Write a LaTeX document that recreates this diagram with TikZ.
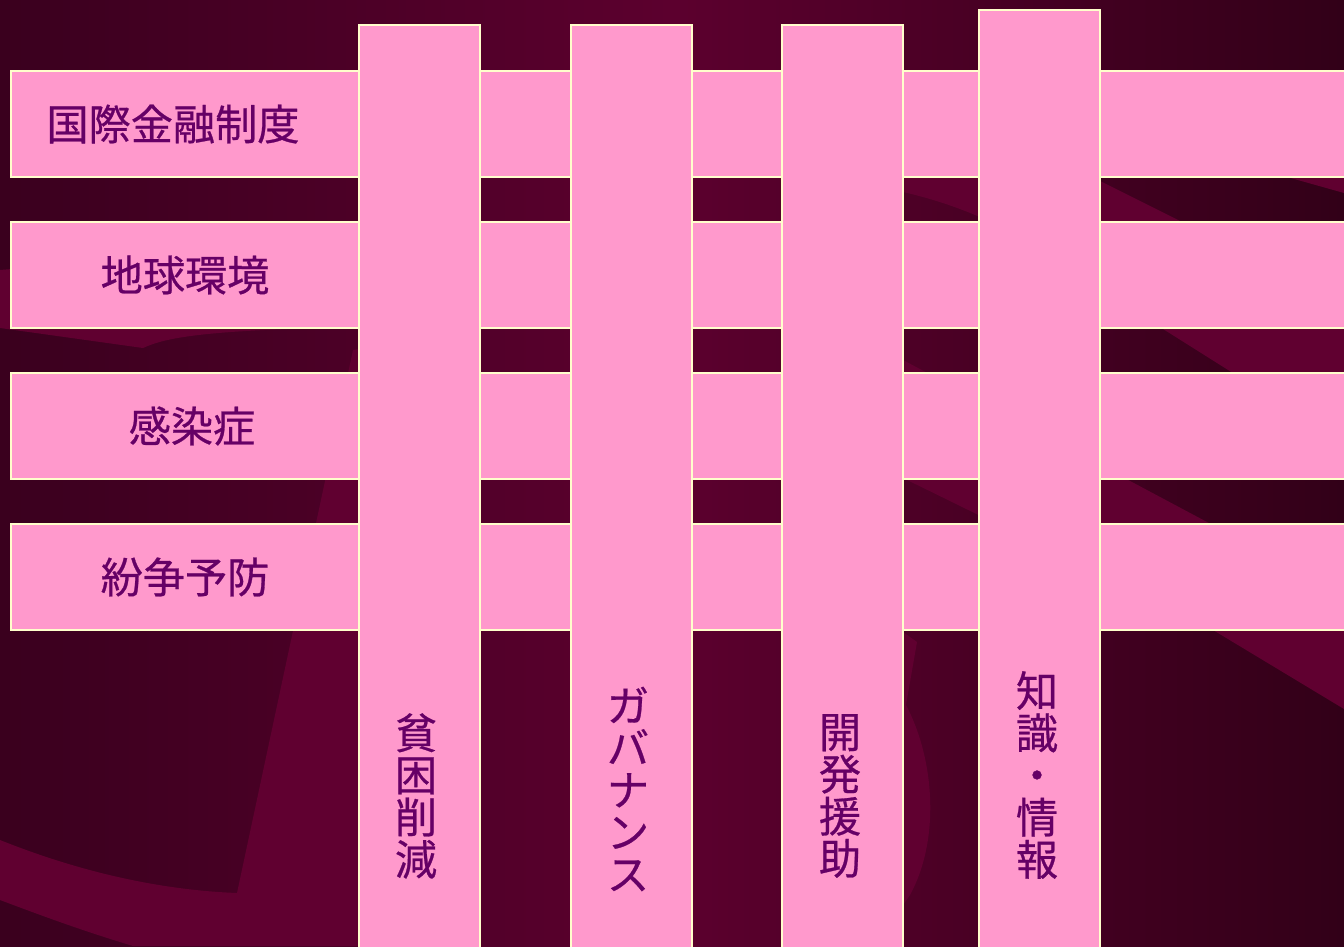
\documentclass[tikz,border=0pt]{standalone}
\usepackage{fontspec}
\newfontfamily\jpfont[FakeBold=0.6]{Noto Sans CJK JP}

\definecolor{bgleft}{HTML}{3A001E}
\definecolor{bgmid}{HTML}{5C002E}
\definecolor{bgright}{HTML}{320018}
\definecolor{swoosh}{HTML}{600030}
\definecolor{barpink}{HTML}{FF99CC}
\definecolor{barline}{HTML}{FFFFCC}
\definecolor{txtpurple}{HTML}{660066}

\tikzset{
  bar/.style={fill=barpink, draw=barline, line width=0.85pt},
  lbl/.style={text=txtpurple, inner sep=0pt,
    font=\jpfont\fontsize{24}{24}\selectfont},
  vlbl/.style={lbl, align=center},
}

\begin{document}
\begin{tikzpicture}[x=0.02cm, y=-0.02cm]
\clip (0,0) rectangle (1344,946);
% background
\shade [left color=bgleft, right color=bgright, middle color=bgmid] (0,0) rectangle (1344,946);
\fill [swoosh] (0,270) -- (0,328) -- (143,348) .. controls (165,338) and (200,330) .. (360,327) -- (360,240) -- cycle;
\fill [swoosh] (0,840) .. controls (80,872) and (160,890) .. (237,893) -- (353,350) -- (480,330) -- (480,946) -- (133,946) .. controls (80,930) and (40,915) .. (0,900) -- cycle;
\fill [swoosh] (903,632) -- (917,642) -- (906,705) .. controls (935,760) and (940,840) .. (910,895) -- (903,905) -- cycle;
\fill [swoosh] (903,150) -- (1100,181) -- (1344,303) -- (1344,443) -- (1163,329) .. controls (1050,250) and (990,212) .. (903,192) -- cycle;
\fill [swoosh] (903,360) -- (1344,595) -- (1344,709) -- (1213,630) -- (903,478) -- cycle;
\fill [swoosh] (1280,175) -- (1344,175) -- (1344,193) -- cycle;
% horizontal bars
\draw [bar] (11,71) rectangle (1350,177);
\draw [bar] (11,222) rectangle (1350,328);
\draw [bar] (11,373) rectangle (1350,479);
\draw [bar] (11,524) rectangle (1350,630);
\node [lbl] (finance) at (173,124) {国際金融制度};
\node [lbl] (environment) at (185,275) {地球環境};
\node [lbl] (infection) at (192,426) {感染症};
\node [lbl] (conflict) at (185,577) {紛争予防};
% vertical bars
\draw [bar] (359,25) rectangle (480,950);
\draw [bar] (571,25) rectangle (692,950);
\draw [bar] (782,25) rectangle (903,950);
\draw [bar] (979,10) rectangle (1100,950);
\node [vlbl] (poverty) at (416,796) {貧\\困\\削\\減};
\node [vlbl] (governance) at (628,789) {ガ\\バ\\ナ\\ン\\ス};
\node [vlbl] (aid) at (840,796) {開\\発\\援\\助};
\node [vlbl] (knowledge) at (1037,775) {知\\識\\・\\情\\報};
\end{tikzpicture}
\end{document}
